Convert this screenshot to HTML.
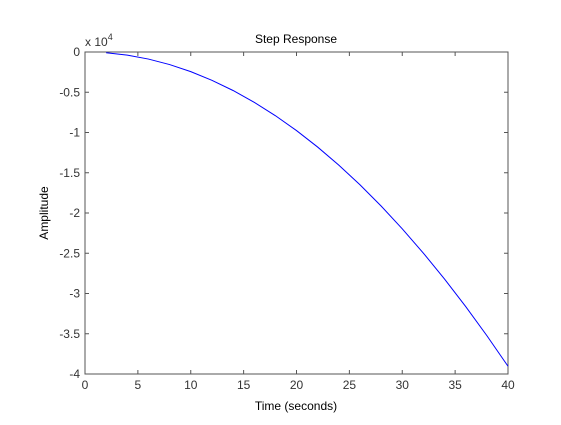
<!DOCTYPE html>
<html><head><meta charset="utf-8"><style>
body{margin:0;background:#fff;width:561px;height:420px;overflow:hidden;font-family:"Liberation Sans",sans-serif}
</style></head><body>
<svg id="c" width="561" height="420" font-family="Liberation Sans, sans-serif"></svg>
<script>
const times=[2,4,6,8,10,12,14,16,18,20,22,24,26,28,30,32,34,36,38,40];
const amps=[-98,-390,-878,-1562,-2440,-3514,-4782,-6246,-7906,-9760,-11810,-14054,-16494,-19130,-21960,-24986,-28206,-31622,-35234,-39040];
const xTicks=[0,5,10,15,20,25,30,35,40];
const yTicks=[0,-0.5,-1,-1.5,-2,-2.5,-3,-3.5,-4];
const L=85,R=508,T=52,B=374;
const sx=v=>L+(v-0)/40*(R-L);
const sy=v=>T+(0-v)/40000*(B-T);
const svg=document.getElementById('c');
const NS='http://www.w3.org/2000/svg';
function mk(t,a,p){const e=document.createElementNS(NS,t);for(const k in a)e.setAttribute(k,a[k]);(p||svg).appendChild(e);return e;}
const box=mk('rect',{x:L,y:T,width:R-L,height:B-T,fill:'#fff',stroke:'#555','stroke-width':1});


xTicks.forEach(v=>{const x=sx(v);
mk('line',{x1:x,y1:B,x2:x,y2:B-4,stroke:'#555'});mk('line',{x1:x,y1:T,x2:x,y2:T+4,stroke:'#555'});
const t=mk('text',{x:x,y:B+15,'text-anchor':'middle','font-size':12,fill:'#333'});t.textContent=v;

});
yTicks.forEach(v=>{const y=sy(v*10000);
mk('line',{x1:L,y1:y,x2:L+4,y2:y,stroke:'#555'});mk('line',{x1:R,y1:y,x2:R-4,y2:y,stroke:'#555'});
const t=mk('text',{x:L-5,y:y+4,'text-anchor':'end','font-size':12,fill:'#333'});t.textContent=v;

});
const line=mk('polyline',{points:times.map((t,i)=>sx(t)+','+sy(amps[i])).join(' '),fill:'none',stroke:'#00f','stroke-width':1});


</script>
<svg width="561" height="420" style="position:absolute;left:0;top:0" font-family="Liberation Sans, sans-serif">
<text x="296" y="43" text-anchor="middle" font-size="12" fill="#000">Step Response</text>
<text x="296" y="410" text-anchor="middle" font-size="12" fill="#000">Time  (seconds)</text>
<text x="48" y="213" text-anchor="middle" font-size="12" fill="#000" transform="rotate(-90 48 213)">Amplitude</text>
<text x="85" y="46" font-size="12" fill="#333">x 10<tspan dy="-6" font-size="9">4</tspan></text>
</svg>
</body></html>
